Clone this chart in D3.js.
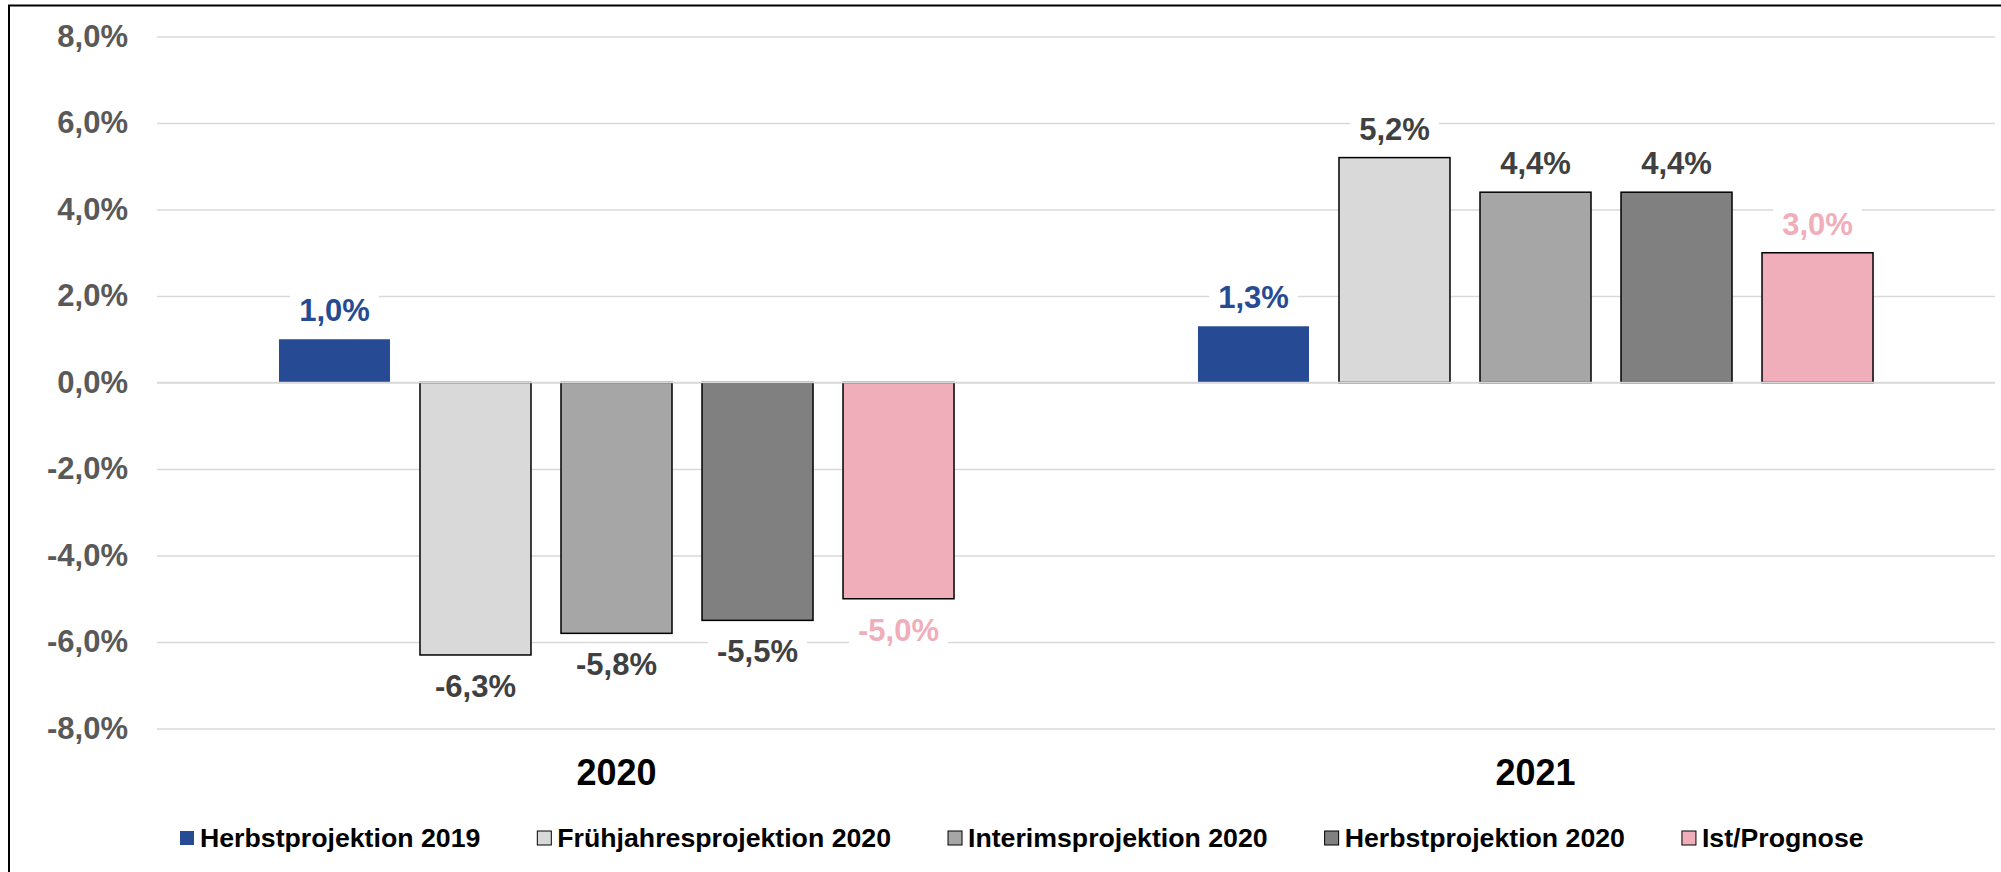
<!DOCTYPE html>
<html><head><meta charset="utf-8">
<script src="https://cdn.jsdelivr.net/npm/d3@7"></script>
<style>html,body{margin:0;padding:0;background:#fff;}svg{display:block;}</style>
</head><body>
<svg id="chart" width="2001" height="872"></svg>
<script>
const categories = ["2020", "2021"];
const seriesNames = ["Herbstprojektion 2019", "Frühjahresprojektion 2020", "Interimsprojektion 2020", "Herbstprojektion 2020", "Ist/Prognose"];
const values2020 = [1.0, -6.3, -5.8, -5.5, -5.0];
const values2021 = [1.3, 5.2, 4.4, 4.4, 3.0];
const yTicks = [-8, -6, -4, -2, 0, 2, 4, 6, 8];
const fills = ["#264a93", "#d9d9d9", "#a6a6a6", "#808080", "#f0aeba"];
const labelColors = ["#264a93", "#404040", "#404040", "#404040", "#f0aeba"];

const valuesByCat = {"2020": values2020, "2021": values2021};
const data = [];
categories.forEach(c => seriesNames.forEach((s, i) => data.push({cat: c, series: s, i, v: valuesByCat[c][i]})));

const locale = d3.formatLocale({decimal: ",", thousands: ".", grouping: [3], currency: ["", "€"], minus: "-"});
const fmt = v => locale.format(".1f")(v) + "%";

const svg = d3.select("#chart");
const font = "'Liberation Sans', Arial, sans-serif";
svg.append("rect").attr("width", 2001).attr("height", 872).attr("fill", "#fff");
svg.append("rect").attr("x", 9).attr("y", 5.5).attr("width", 2100).attr("height", 1000)
  .attr("fill", "none").attr("stroke", "#000").attr("stroke-width", 2);

const left = 157, right = 1995;
const y = d3.scaleLinear().domain([-8, 8]).range([728.5, 36.5]);
const x0 = d3.scaleBand().domain(categories).range([left, right]).padding(0);
const x1 = d3.scaleBand().domain(seriesNames).range([0, x0.bandwidth()]).paddingInner(0.2128).paddingOuter(0.865);

// axis + gridlines
const axis = d3.axisLeft(y).tickValues(yTicks).tickSize(-(right - left)).tickPadding(29).tickFormat(fmt);
const ag = svg.append("g").attr("transform", `translate(${left},0)`).call(axis);
ag.select(".domain").remove();
ag.selectAll(".tick line").attr("stroke", "#d9d9d9").attr("stroke-width", 1.5);
ag.selectAll(".tick text").attr("fill", "#595959").attr("font-family", font).attr("font-size", 31).attr("font-weight", "bold");

// bars
const bars = svg.append("g");
bars.selectAll("rect").data(data).join("rect")
  .attr("x", d => x0(d.cat) + x1(d.series))
  .attr("width", x1.bandwidth())
  .attr("y", d => y(Math.max(0, d.v)))
  .attr("height", d => Math.abs(y(d.v) - y(0)))
  .attr("fill", d => fills[d.i])
  .attr("stroke", d => d.i === 0 ? "none" : "#000")
  .attr("stroke-width", 1.5);

// zero line on top
svg.append("line").attr("x1", left).attr("x2", right).attr("y1", y(0)).attr("y2", y(0))
  .attr("stroke", "#d9d9d9").attr("stroke-width", 1.5);

// value labels
const lg = svg.append("g");
data.forEach(d => {
  const cx = x0(d.cat) + x1(d.series) + x1.bandwidth() / 2;
  const base = d.v >= 0 ? y(d.v) - 18 : y(d.v) + 42;
  const g = lg.append("g");
  const t = g.append("text").attr("x", cx).attr("y", base).attr("text-anchor", "middle")
    .attr("font-family", font).attr("font-size", 31).attr("font-weight", "bold")
    .attr("fill", labelColors[d.i]).text(fmt(d.v));
  const w = t.node().getComputedTextLength();
  g.insert("rect", "text").attr("x", cx - w / 2 - 9).attr("y", base - 28).attr("width", w + 18).attr("height", 36).attr("fill", "#fff");
});

// category labels
svg.append("g").selectAll("text").data(categories).join("text")
  .attr("x", d => x0(d) + x0.bandwidth() / 2).attr("y", 785)
  .attr("text-anchor", "middle").attr("font-family", font).attr("font-size", 36).attr("font-weight", "bold")
  .attr("fill", "#000").text(d => d);

// legend
const leg = svg.append("g");
let lx = 180;
seriesNames.forEach((s, i) => {
  leg.append("rect").attr("x", lx).attr("y", 831).attr("width", 14).attr("height", 14)
    .attr("fill", fills[i]).attr("stroke", i === 0 ? "none" : "#000").attr("stroke-width", 1);
  const t = leg.append("text").attr("x", lx + 20).attr("y", 847)
    .attr("font-family", font).attr("font-size", 26.7).attr("font-weight", "bold").attr("fill", "#000").text(s);
  lx += 20 + t.node().getComputedTextLength() + 57;
});
</script>
</body></html>
